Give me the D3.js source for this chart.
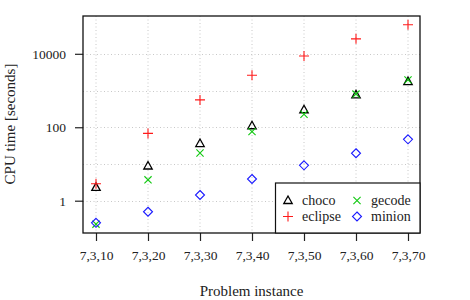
<!DOCTYPE html>
<head>
  <script src="https://d3js.org/d3.v7.min.js"></script>
  <style>
    body { margin: 0; background: #fff; }
    text { font-family: "Liberation Serif", serif; fill: #222; }
  </style>
</head>
<body>
<script type="text/javascript">
  var w = 470, h = 300;

  var categories = ["7,3,10", "7,3,20", "7,3,30", "7,3,40", "7,3,50", "7,3,60", "7,3,70"];
  var choco   = [2.3, 8.8, 36, 110, 300, 760, 1750];
  var eclipse = [2.9, 68, 555, 2600, 8700, 25500, 62000];
  var gecode  = [0.23, 3.7, 20, 76, 225, 800, 1950];
  var minion  = [0.25, 0.5, 1.43, 3.9, 9.2, 19.6, 47];
  var yTicks = [1, 100, 10000];
  var yGrid = [1, 10, 100, 1000, 10000];

  var series = [
    {name: "choco", values: choco, color: "#000", shape: "tri"},
    {name: "eclipse", values: eclipse, color: "#ff1a1a", shape: "plus"},
    {name: "gecode", values: gecode, color: "#10c810", shape: "x"},
    {name: "minion", values: minion, color: "#1a1aff", shape: "diamond"}
  ];

  var pLeft = 83, pRight = 420, pTop = 16, pBottom = 233;

  var svg = d3.select("body").append("svg")
    .attr("width", w).attr("height", h);

  var x = d3.scalePoint().domain(categories).range([96, 408]);
  var y = d3.scaleLog().domain([0.132, 107000]).range([pBottom, pTop]);

  // grid
  var grid = svg.append("g").attr("stroke", "#c8c8c8").attr("stroke-width", 1)
    .attr("stroke-dasharray", "1,2.5");
  grid.selectAll(".v").data(categories).enter().append("line")
    .attr("x1", function(d){ return x(d); }).attr("x2", function(d){ return x(d); })
    .attr("y1", pTop).attr("y2", pBottom);
  grid.selectAll(".h").data(yGrid).enter().append("line")
    .attr("x1", pLeft).attr("x2", pRight)
    .attr("y1", function(d){ return Math.round(y(d)) + 0.5; })
    .attr("y2", function(d){ return Math.round(y(d)) + 0.5; });

  // axes
  var xAxis = d3.axisBottom(x).tickSize(8).tickPadding(9);
  svg.append("g").attr("transform", "translate(0," + pBottom + ")").call(xAxis)
    .call(function(g){
      g.select(".domain").remove();
      g.selectAll("line").attr("stroke", "#222").attr("stroke-width", 1.2);
      g.selectAll("text").style("font-size", "13.5px").attr("fill", "#222")
        .style("font-family", "Liberation Serif, serif");
    });

  var yAxis = d3.axisLeft(y).tickValues(yTicks).tickSize(8).tickPadding(9)
    .tickFormat(d3.format("d"));
  svg.append("g").attr("transform", "translate(" + pLeft + ",0)").call(yAxis)
    .call(function(g){
      g.select(".domain").remove();
      g.selectAll("line").attr("stroke", "#222").attr("stroke-width", 1.2);
      g.selectAll("text").style("font-size", "13.5px").attr("fill", "#222")
        .style("font-family", "Liberation Serif, serif");
    });

  // frame
  svg.append("rect").attr("x", pLeft).attr("y", pTop)
    .attr("width", pRight - pLeft).attr("height", pBottom - pTop)
    .attr("fill", "none").attr("stroke", "#111").attr("stroke-width", 1.3);

  function marker(g, shape, color) {
    g.attr("fill", "none").attr("stroke", color).attr("stroke-width", 1.1);
    if (shape == "tri") {
      g.append("path").attr("d", "M0,-4.5L4.2,3L-4.2,3Z").attr("stroke-width", 1.3);
    } else if (shape == "plus") {
      g.append("path").attr("d", "M-5,0H5M0,-5V5");
    } else if (shape == "x") {
      g.append("path").attr("d", "M-3.6,-3.6L3.6,3.6M-3.6,3.6L3.6,-3.6");
    } else {
      g.append("path").attr("d", "M0,-4.5L4.5,0L0,4.5L-4.5,0Z");
    }
  }

  series.forEach(function(s){
    svg.append("g").selectAll("g").data(s.values).enter().append("g")
      .attr("transform", function(d, i){
        return "translate(" + x(categories[i]) + "," + y(d) + ")";
      })
      .each(function(){ marker(d3.select(this), s.shape, s.color); });
  });

  // legend
  var lg = svg.append("g");
  lg.append("rect").attr("x", 275.5).attr("y", 183)
    .attr("width", pRight - 275.5).attr("height", pBottom - 183)
    .attr("fill", "#fff").attr("stroke", "#111").attr("stroke-width", 1.2);
  var pos = [[288, 200.5], [288, 216.5], [357, 200.5], [357, 216.5]];
  series.forEach(function(s, i){
    var g = lg.append("g").attr("transform", "translate(" + pos[i][0] + "," + pos[i][1] + ")");
    marker(g, s.shape, s.color);
    lg.append("text").attr("x", pos[i][0] + 14).attr("y", pos[i][1] + 4.5)
      .style("font-size", "14px").text(s.name);
  });

  // axis titles
  svg.append("text").attr("x", (pLeft + pRight) / 2).attr("y", 296)
    .attr("text-anchor", "middle").style("font-size", "15px").text("Problem instance");
  svg.append("text").attr("transform", "translate(15,124) rotate(-90)")
    .attr("text-anchor", "middle").style("font-size", "15px").text("CPU time [seconds]");
</script>
</body>
